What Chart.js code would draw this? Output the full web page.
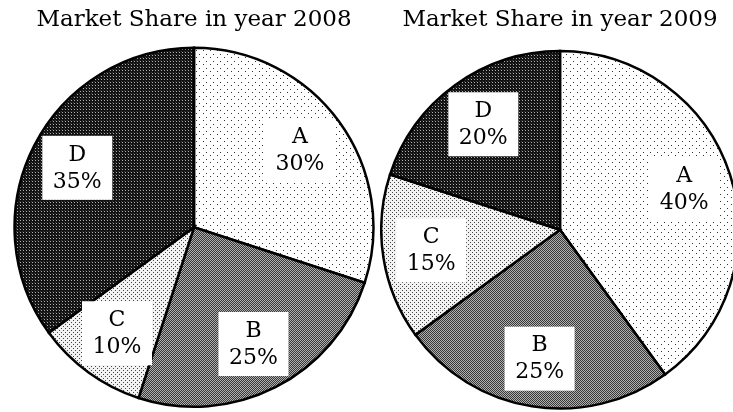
<!DOCTYPE html>
<html>
<head>
<meta charset="utf-8">
<script src="https://cdn.jsdelivr.net/npm/chart.js@4/dist/chart.umd.min.js"></script>
<style>
  html, body { margin: 0; padding: 0; background: #fff; overflow: hidden; width: 733px; height: 412px; }
  canvas { position: absolute; top: 0; }
  #chart-2008 { left: 13px; }
  #chart-2009 { left: 380px; }
</style>
</head>
<body>
<canvas id="chart-2008" width="362" height="412"></canvas>
<canvas id="chart-2009" width="360" height="412"></canvas>
<script>
const categories = ['A', 'B', 'C', 'D']
const share2008 = [30, 25, 10, 35]
const share2009 = [40, 25, 15, 20]
const title2008 = 'Market Share in year 2008'
const title2009 = 'Market Share in year 2009'

const serif = "'DejaVu Serif', 'Liberation Serif', serif"

// little tiles to imitate the printed screen tones
const makePattern = (size, base, dots) => {
    const tile = document.createElement('canvas')
    tile.width = size
    tile.height = size
    const ctx = tile.getContext('2d')
    ctx.fillStyle = base
    ctx.fillRect(0, 0, size, size)
    dots.forEach(([x, y, c]) => {
        ctx.fillStyle = c
        ctx.fillRect(x, y, 1, 1)
    })
    return document.createElement('canvas').getContext('2d').createPattern(tile, 'repeat')
}

const fills = [
    makePattern(7, '#ffffff', [[1, 1, '#333'], [4, 5, '#333']]),
    makePattern(2, '#b0b0b0', [[0, 0, '#383838'], [1, 1, '#383838']]),
    makePattern(4, '#f2f2f2', [[0, 0, '#444'], [2, 2, '#444']]),
    makePattern(3, '#121212', [[1, 1, '#b0b0b0'], [0, 0, '#3a3a3a']])
]

const boxLabels = {
    id: 'boxLabels',
    afterDatasetsDraw(chart) {
        const ctx = chart.ctx
        const meta = chart.getDatasetMeta(0)
        const values = chart.data.datasets[0].data

        meta.data.forEach((arc, i) => {
            const mid = (arc.startAngle + arc.endAngle) / 2
            const r = arc.outerRadius * 0.73
            const x = arc.x + Math.cos(mid) * r
            const y = arc.y + Math.sin(mid) * r

            ctx.save()
            ctx.fillStyle = '#fff'
            ctx.fillRect(x - 35, y - 32, 70, 64)
            ctx.fillStyle = '#000'
            ctx.font = `22px ${serif}`
            ctx.textAlign = 'center'
            ctx.textBaseline = 'middle'
            ctx.fillText(chart.data.labels[i], x, y - 13)
            ctx.fillText(values[i] + '%', x, y + 14)
            ctx.restore()
        })
    }
}

const makeChart = (id, data, title, padTop, padBottom, bottom) => new Chart(document.getElementById(id), {
    type: 'pie',
    data: {
        labels: categories,
        datasets: [{
            data: data,
            backgroundColor: fills,
            borderColor: '#000',
            borderWidth: 2.5,
            borderJoinStyle: 'miter'
        }]
    },
    options: {
        responsive: false,
        animation: false,
        layout: { padding: { bottom: bottom } },
        plugins: {
            legend: { display: false },
            tooltip: { enabled: false },
            title: {
                display: true,
                text: title,
                color: '#000',
                font: { family: serif, size: 23, weight: 'normal' },
                padding: { top: 6, bottom: padBottom }
            }
        }
    },
    plugins: [boxLabels]
})

makeChart('chart-2008', share2008, title2008, 6, 13, 4)
makeChart('chart-2009', share2009, title2009, 8, 16, 2)
</script>
</body>
</html>
